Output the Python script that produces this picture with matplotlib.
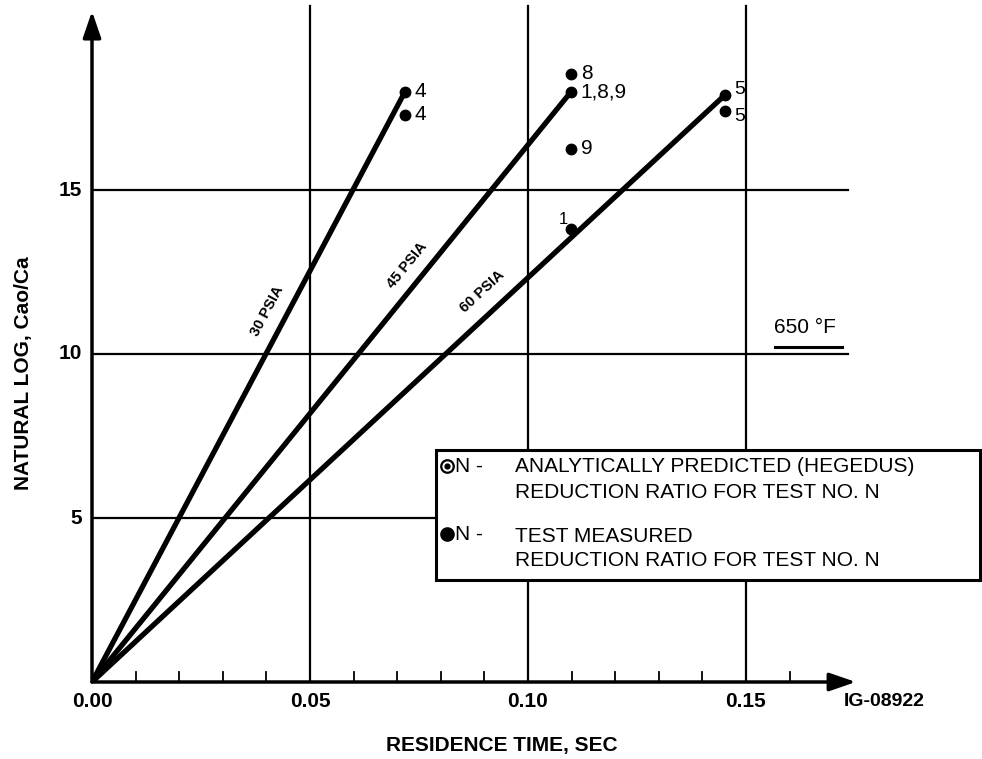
import numpy as np
import matplotlib
matplotlib.use("Agg")
import matplotlib.pyplot as plt
from matplotlib.patches import Rectangle
from matplotlib.lines import Line2D

plt.rcParams['font.family'] = ['Liberation Sans', 'DejaVu Sans']

# pressure lines: end point = analytically predicted value
psia_labels = ['30 PSIA', '45 PSIA', '60 PSIA']
t_pred = [0.0718, 0.1099, 0.1452]
ln_pred = [18.0, 18.0, 17.9]
pred_tags = ['4', '1,8,9', '5']
label_pos = [(0.0402, 11.3), (0.0722, 12.7), (0.0895, 11.9)]

# test measured points
t_meas = [0.0718, 0.1099, 0.1099, 0.1099, 0.1452]
ln_meas = [17.3, 18.55, 16.25, 13.8, 17.4]
meas_tags = ['4', '8', '9', '1', '5']

xticks = [0.00, 0.05, 0.10, 0.15]
xticklabels = ['0.00', '0.05', '0.10', '0.15']
yticks = [5, 10, 15]

W, H = 982, 759
fig = plt.figure(figsize=(W / 100, H / 100), dpi=100)
# axes placed in pixels so the origin sits where the scan has it
x0, y0 = 92, 682
sx, sy = 4360.0, 32.8
xmax, ymax = 0.19, y0 / sy
ax = fig.add_axes([x0 / W, (H - y0) / H, xmax * sx / W, ymax * sy / H])
ax.set_xlim(0, xmax)
ax.set_ylim(0, ymax)
ax.axis('off')

lw_grid = 1.6
for yt in yticks:
    ax.plot([0, 0.1734], [yt, yt], color='black', lw=lw_grid, zorder=1)
    ax.text(-0.0022, yt, str(yt), ha='right', va='center', fontsize=15, fontweight='bold')
for xt, lab in zip(xticks, xticklabels):
    if xt > 0:
        ax.plot([xt, xt], [0, 20.6], color='black', lw=lw_grid, zorder=1)
    ax.text(xt, -0.6, lab, ha='center', va='center', fontsize=15, fontweight='bold')
for xm in np.arange(0.01, 0.165, 0.01):
    if round(xm * 100) % 5:
        ax.plot([xm, xm], [0, 0.32], color='black', lw=1.3, zorder=1)

# axes with arrow heads
ax.annotate('', xy=(0.1752, 0), xytext=(0, 0),
            arrowprops=dict(arrowstyle='-|>,head_length=1.6,head_width=0.55', lw=2.5, color='black',
                            shrinkA=0, shrinkB=0), annotation_clip=False)
ax.annotate('', xy=(0, 20.45), xytext=(0, 0),
            arrowprops=dict(arrowstyle='-|>,head_length=1.6,head_width=0.55', lw=2.5, color='black',
                            shrinkA=0, shrinkB=0), annotation_clip=False)

# pressure lines
for tp, lp, tag, lab, (lx, ly) in zip(t_pred, ln_pred, pred_tags, psia_labels, label_pos):
    ax.plot([0, tp], [0, lp], color='black', lw=3.8, solid_capstyle='round', zorder=3)
    ax.plot(tp, lp, 'o', color='black', ms=7.5, zorder=4)
    dy = 0.15 if tag == '5' else 0
    fs = 14 if tag == '5' else 15
    ax.text(tp + 0.0022, lp + dy, tag, ha='left', va='center', fontsize=fs, zorder=4)
    p0 = ax.transData.transform((0, 0))
    p1 = ax.transData.transform((tp, lp))
    ang = np.degrees(np.arctan2(p1[1] - p0[1], p1[0] - p0[0]))
    ax.text(lx, ly, lab, rotation=ang, ha='center', va='center', fontsize=10.5,
            fontweight='bold', rotation_mode='anchor', zorder=4)

for tm, lm, tag in zip(t_meas, ln_meas, meas_tags):
    ax.plot(tm, lm, 'o', color='black', ms=7.5, zorder=4)
    if tag == '1':
        ax.text(tm - 0.0018, lm + 0.3, tag, ha='center', va='center', fontsize=12, zorder=5)
    elif tag == '5':
        ax.text(tm + 0.0022, lm - 0.15, tag, ha='left', va='center', fontsize=14, zorder=4)
    else:
        ax.text(tm + 0.0022, lm, tag, ha='left', va='center', fontsize=15, zorder=4)

# temperature note
ax.text(0.1635, 10.82, '650 \u00b0F', ha='center', va='center', fontsize=15)
ax.plot([0.1566, 0.1720], [10.22, 10.22], color='black', lw=2.2, zorder=2)

# legend box (figure pixels)
def fx(px):
    return px / W

def fy(py):
    return 1 - py / H

fig.patches.append(Rectangle((fx(436), fy(580)), fx(980) - fx(436), fy(450) - fy(580),
                             transform=fig.transFigure, facecolor='white', edgecolor='black',
                             lw=2.2, zorder=10))
fig.add_artist(Line2D([fx(447)], [fy(466)], marker='o', ms=9, mfc='white', mec='black', mew=1.6,
                      transform=fig.transFigure, zorder=11))
fig.add_artist(Line2D([fx(447)], [fy(466)], marker='o', ms=3.5, color='black',
                      transform=fig.transFigure, zorder=12))
fig.add_artist(Line2D([fx(447)], [fy(534)], marker='o', ms=9.5, color='black',
                      transform=fig.transFigure, zorder=11))
fig.text(fx(455), fy(466), 'N -', fontsize=15, va='center', ha='left', zorder=11)
fig.text(fx(455), fy(534), 'N -', fontsize=15, va='center', ha='left', zorder=11)
fig.text(fx(515), fy(466), 'ANALYTICALLY PREDICTED (HEGEDUS)', fontsize=15, va='center', zorder=11)
fig.text(fx(515), fy(492), 'REDUCTION RATIO FOR TEST NO. N', fontsize=15, va='center', zorder=11)
fig.text(fx(515), fy(536), 'TEST MEASURED', fontsize=15, va='center', zorder=11)
fig.text(fx(515), fy(561), 'REDUCTION RATIO FOR TEST NO. N', fontsize=15, va='center', zorder=11)

fig.text(fx(502), fy(745), 'RESIDENCE TIME, SEC', ha='center', va='center', fontsize=15, fontweight='bold')
fig.text(fx(24), fy(373), 'NATURAL LOG, Cao/Ca', ha='center', va='center', rotation=90,
         fontsize=15, fontweight='bold')
fig.text(fx(884), fy(702), 'IG-08922', ha='center', va='center', fontsize=14, fontweight='bold')

fig.savefig('out.png', dpi=100)
